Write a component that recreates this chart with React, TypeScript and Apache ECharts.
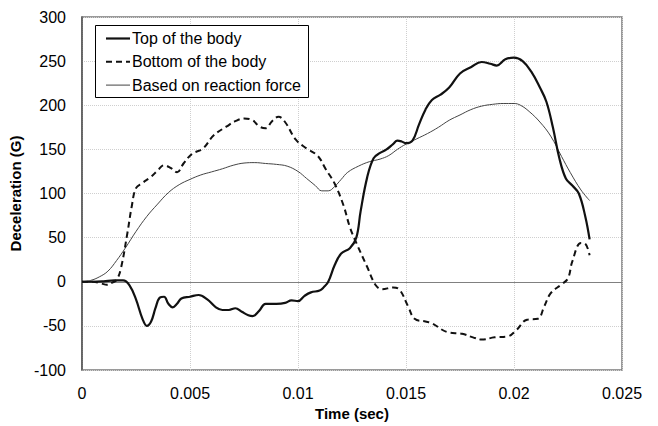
import React, { useEffect, useRef } from "react";
import * as echarts from "echarts";

const topT = [0, 0.0005, 0.001, 0.0015, 0.0019, 0.0022, 0.0025, 0.0028, 0.003, 0.0032, 0.0034, 0.0036, 0.0038, 0.004, 0.0042, 0.0044, 0.0046, 0.005, 0.0054, 0.0058, 0.0062, 0.0065, 0.0068, 0.0071, 0.0074, 0.0077, 0.0079, 0.0082, 0.0085, 0.009, 0.0094, 0.0097, 0.01, 0.0103, 0.0106, 0.011, 0.0112, 0.0114, 0.0117, 0.012, 0.0124, 0.0127, 0.0129, 0.0132, 0.0135, 0.0138, 0.0141, 0.0144, 0.0146, 0.0148, 0.015, 0.0153, 0.0156, 0.0159, 0.0162, 0.0166, 0.017, 0.0175, 0.018, 0.0185, 0.0189, 0.0192, 0.0196, 0.02, 0.0204, 0.0208, 0.0212, 0.0215, 0.0218, 0.0221, 0.0224, 0.0227, 0.023, 0.0233, 0.0235];
const topG = [0, 0, 0.5, 1.5, 1.5, -4, -20, -42, -50, -45, -30, -18, -17, -25, -29, -25, -19, -17, -15, -20, -29, -32, -32, -30, -34, -38, -39, -33, -25, -25, -24, -21, -22, -16, -12, -10, -6, 0, 19, 32, 38, 50, 80, 118, 140, 146, 150, 156, 160, 159, 157, 160, 178, 195, 206, 212, 220, 236, 243, 249, 247, 245, 252, 254, 250, 238, 220, 204, 175, 140, 117, 109, 100, 74, 48];

const bottomT = [0, 0.0005, 0.0009, 0.00115, 0.0014, 0.0016, 0.0018, 0.0021, 0.0023, 0.0025, 0.0028, 0.0032, 0.0035, 0.0038, 0.0041, 0.0044, 0.0047, 0.0051, 0.0056, 0.0061, 0.0067, 0.0071, 0.0075, 0.0079, 0.0082, 0.0085, 0.0088, 0.0091, 0.0094, 0.0099, 0.0104, 0.0109, 0.0113, 0.0117, 0.0121, 0.0124, 0.0127, 0.0132, 0.0136, 0.0139, 0.0144, 0.0147, 0.0151, 0.0154, 0.0159, 0.0162, 0.0169, 0.0176, 0.0181, 0.0185, 0.0191, 0.0197, 0.0201, 0.0206, 0.0211, 0.0214, 0.0217, 0.0222, 0.0225, 0.0227, 0.0231, 0.0233, 0.0235];
const bottomG = [0, 0, -2, -3.5, -1, 2, 15, 55, 85, 106, 112, 119, 126, 132, 129, 124, 134, 145, 151, 166, 176, 182, 185, 183, 176, 174, 182, 187, 181, 161, 151, 143, 127, 111, 87, 62, 44, 17, -4, -8.5, -6.5, -9, -28, -42, -45, -47, -57, -59, -63, -65.5, -63, -62, -55, -43, -42, -28, -13, -3, 4, 23, 44, 43, 30];

const reactT = [0, 0.0004, 0.0008, 0.0012, 0.0016, 0.002, 0.0025, 0.003, 0.0035, 0.004, 0.0045, 0.005, 0.0055, 0.006, 0.0065, 0.007, 0.0075, 0.008, 0.0085, 0.009, 0.0095, 0.01, 0.0104, 0.0108, 0.0111, 0.0114, 0.0117, 0.012, 0.0123, 0.0128, 0.0133, 0.0138, 0.0142, 0.0146, 0.015, 0.0155, 0.016, 0.0165, 0.017, 0.0175, 0.018, 0.0185, 0.019, 0.0195, 0.02, 0.0203, 0.0207, 0.0212, 0.0217, 0.0222, 0.0226, 0.0231, 0.0235];
const reactG = [0, 1.5, 5.5, 12, 24, 38, 57, 74, 88, 101, 110, 116, 121, 124.5, 128, 132, 134.5, 135, 134, 133, 131, 125, 117, 109, 103, 103, 108, 116, 124, 131, 136, 139, 143, 150, 156, 162, 168, 175, 183, 189, 195, 199, 201, 202, 202, 200, 193, 181, 165, 142, 124, 104, 92];

const seriesNames = ["Top of the body", "Bottom of the body", "Based on reaction force"];
const xTicks = [0, 0.005, 0.01, 0.015, 0.02, 0.025];

const pair = (t: number[], g: number[]) => t.map((x, i) => [x, g[i]]);
const FONT = "'Liberation Sans', Arial, sans-serif";

const lineStyles = [
  { color: "#111", width: 2.2, type: "solid" as any },
  { color: "#111", width: 2, type: [6, 4] as any },
  { color: "#444", width: 1, type: "solid" as any },
];

export default function App() {
  const ref = useRef<HTMLDivElement>(null);
  useEffect(() => {
    if (!ref.current) return;
    const chart = echarts.init(ref.current, null, { renderer: "svg" });

    const legendTop = 26;
    const rowH = 23.3;
    const legendItems: any[] = [
      {
        type: "rect",
        shape: { x: 95.5, y: legendTop - 0.5, width: 213, height: 72 },
        style: { fill: "#fff", stroke: "#000", lineWidth: 1 },
        z: 100,
      },
    ];
    seriesNames.forEach((name, i) => {
      const cy = legendTop + 12.5 + i * rowH;
      const ls = lineStyles[i];
      legendItems.push({
        type: "line",
        shape: { x1: 106, y1: cy, x2: 130, y2: cy },
        style: {
          stroke: ls.color,
          lineWidth: ls.width,
          lineDash: Array.isArray(ls.type) ? ls.type : null,
        },
        z: 101,
      });
      legendItems.push({
        type: "text",
        x: 132,
        y: cy,
        style: { text: name, fontSize: 16, fill: "#000", fontFamily: FONT, verticalAlign: "middle", align: "left" },
        z: 101,
      });
    });

    chart.setOption({
      animation: false,
      backgroundColor: "#fff",
      textStyle: { fontFamily: FONT },
      grid: { left: 82, right: 36, top: 17, bottom: 56, show: true, borderColor: "#7a7a7a", borderWidth: 1.5, backgroundColor: "transparent" },
      graphic: legendItems,
      xAxis: {
        type: "value",
        min: 0,
        max: 0.025,
        interval: 0.005,
        name: "Time (sec)",
        nameLocation: "middle",
        nameGap: 36,
        nameTextStyle: { fontSize: 15, fontWeight: "bold", color: "#000", fontFamily: FONT },
        axisLine: { show: false },
        axisTick: { show: false },
        axisLabel: {
          fontSize: 16,
          color: "#000",
          margin: 15,
          fontFamily: FONT,
          formatter: (v: number) => {
            const k = xTicks.findIndex((t) => Math.abs(t - v) < 1e-9);
            return k >= 0 ? String(xTicks[k]) : "";
          },
        },
        splitLine: { show: true, lineStyle: { color: "#cfcfcf", type: "dotted", width: 1 } },
      },
      yAxis: {
        type: "value",
        min: -100,
        max: 300,
        interval: 50,
        name: "Deceleration (G)",
        nameLocation: "middle",
        nameGap: 56,
        nameTextStyle: { fontSize: 15, fontWeight: "bold", color: "#000", fontFamily: FONT },
        axisLine: { show: true, lineStyle: { color: "#555", width: 1.5 } },
        axisTick: { show: false },
        axisLabel: { fontSize: 16, color: "#000", margin: 16, fontFamily: FONT },
        splitLine: { show: true, lineStyle: { color: "#cfcfcf", type: "dotted", width: 1 } },
      },
      series: [
        {
          name: seriesNames[0],
          type: "line",
          data: pair(topT, topG),
          smooth: 0.4,
          symbol: "none",
          lineStyle: lineStyles[0],
          itemStyle: { color: "#111" },
          z: 5,
          markLine: {
            silent: true,
            symbol: "none",
            label: { show: false },
            lineStyle: { color: "#808080", type: "solid", width: 1 },
            data: [{ yAxis: 0 }],
            z: 1,
          },
        },
        {
          name: seriesNames[1],
          type: "line",
          data: pair(bottomT, bottomG),
          smooth: 0.4,
          symbol: "none",
          lineStyle: lineStyles[1],
          itemStyle: { color: "#111" },
          z: 4,
        },
        {
          name: seriesNames[2],
          type: "line",
          data: pair(reactT, reactG),
          smooth: 0.4,
          symbol: "none",
          lineStyle: lineStyles[2],
          itemStyle: { color: "#444" },
          z: 3,
        },
      ],
    });
    return () => chart.dispose();
  }, []);
  return <div ref={ref} style={{ width: 658, height: 426, position: "absolute", left: 0, top: 0 }} />;
}
